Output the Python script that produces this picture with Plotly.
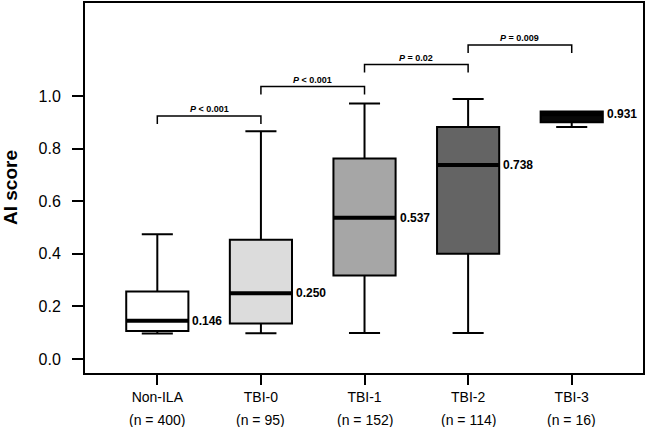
import plotly.graph_objects as go

# ---- data ----
categories = ["Non-ILA", "TBI-0", "TBI-1", "TBI-2", "TBI-3"]
n_labels = ["(n = 400)", "(n = 95)", "(n = 152)", "(n = 114)", "(n = 16)"]
q1 = [0.107, 0.135, 0.318, 0.400, 0.901]
median = [0.146, 0.250, 0.537, 0.738, 0.931]
q3 = [0.257, 0.454, 0.763, 0.882, 0.941]
lower_whisker = [0.097, 0.098, 0.099, 0.099, 0.882]
upper_whisker = [0.475, 0.866, 0.972, 0.989, 0.941]
median_text = ["0.146", "0.250", "0.537", "0.738", "0.931"]
fills = ["#ffffff", "#dcdcdc", "#a6a6a6", "#646464", "#080808"]

# significance brackets: (left index, right index, height, label)
bracket_left = [0, 1, 2, 3]
bracket_right = [1, 2, 3, 4]
bracket_y = [0.924, 1.036, 1.120, 1.194]
bracket_p = ["< 0.001", "< 0.001", "= 0.02", "= 0.009"]
bracket_drop = 0.030

BOX_W = 0.6
FONT = "Liberation Sans, Arial, Helvetica, sans-serif"

fig = go.Figure()
for i, cat in enumerate(categories):
    fig.add_trace(go.Box(
        x=[i], q1=[q1[i]], median=[median[i]], q3=[q3[i]],
        lowerfence=[lower_whisker[i]], upperfence=[upper_whisker[i]],
        width=BOX_W, whiskerwidth=0.5, fillcolor=fills[i],
        line=dict(color="black", width=2), boxpoints=False,
        hoverinfo="skip", showlegend=False, name=cat,
    ))

shapes = []
annotations = []
for i in range(len(categories)):
    # thick median line
    shapes.append(dict(type="line", xref="x", yref="y",
                       x0=i - BOX_W / 2, x1=i + BOX_W / 2, y0=median[i], y1=median[i],
                       line=dict(color="black", width=4), layer="above"))
    annotations.append(dict(xref="x", yref="y", x=i + BOX_W / 2, y=median[i],
                            text=f"<b>{median_text[i]}</b>", showarrow=False, xanchor="left",
                            yanchor="middle", xshift=2,
                            font=dict(family=FONT, size=12, color="black")))
    annotations.append(dict(xref="x", yref="paper", x=i, y=0, yshift=-47,
                            text=n_labels[i], showarrow=False, xanchor="center",
                            yanchor="middle",
                            font=dict(family=FONT, size=14, color="black")))

for l, r, y, p in zip(bracket_left, bracket_right, bracket_y, bracket_p):
    shapes.append(dict(type="path", xref="x", yref="y",
                       path=f"M {l},{y - bracket_drop} L {l},{y} L {r},{y} L {r},{y - bracket_drop}",
                       line=dict(color="black", width=1.5)))
    annotations.append(dict(xref="x", yref="y", x=(l + r) / 2, y=y, yshift=7,
                            text=f"<b><i>P</i> {p}</b>", showarrow=False,
                            xanchor="center", yanchor="middle",
                            font=dict(family=FONT, size=9, color="black")))

annotations.append(dict(xref="paper", yref="paper", x=0, xshift=-75, y=0.5,
                        text="<b>AI score</b>", textangle=-90, showarrow=False,
                        xanchor="center", yanchor="middle",
                        font=dict(family=FONT, size=19, color="black")))

fig.update_layout(
    width=646, height=427,
    margin=dict(l=85, r=3, t=1, b=54),
    paper_bgcolor="white", plot_bgcolor="white",
    shapes=shapes, annotations=annotations,
    font=dict(family=FONT, color="black"),
    xaxis=dict(range=[-0.698, 4.688], tickvals=list(range(len(categories))),
               ticktext=categories, ticks="outside", ticklen=10, tickwidth=1.5,
               tickcolor="black", showline=True, linecolor="black", linewidth=2,
               mirror=True, showgrid=False, zeroline=False,
               tickfont=dict(family=FONT, size=14, color="black")),
    yaxis=dict(range=[-0.053, 1.354], tickvals=[0, 0.2, 0.4, 0.6, 0.8, 1.0],
               ticktext=["0.0", "0.2", "0.4", "0.6", "0.8", "1.0"],
               ticks="outside", ticklen=11, tickwidth=1.5, tickcolor="black",
               ticklabelstandoff=8,
               showline=True, linecolor="black", linewidth=2, mirror=True,
               showgrid=False, zeroline=False,
               tickfont=dict(family=FONT, size=16, color="black")),
)

fig.write_html("out.html")
